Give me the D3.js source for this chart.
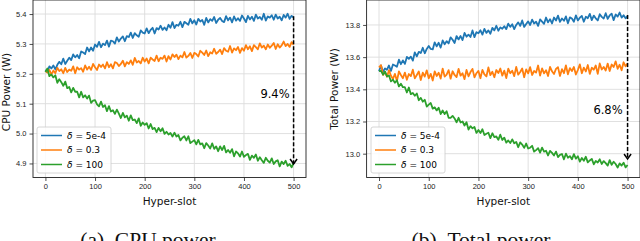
<!DOCTYPE html>
<html>
<head>
<meta charset="utf-8">
<script src="https://cdn.jsdelivr.net/npm/d3@7"></script>
<style>
  body { margin: 0; background: #fff; }
  svg { display: block; font-family: "DejaVu Sans", sans-serif; }
  .grid line { stroke: #dcdcdc; stroke-width: 0.9px; }
  .tick text { font-size: 7.5px; fill: #222; }
  .axis-label { font-size: 10.5px; fill: #111; }
  .caption { font-family: "Liberation Serif", serif; font-size: 21.5px; fill: #111; }
</style>
</head>
<body>
<svg id="chart" width="640" height="241"></svg>
<script>
  // hyper-slot index of every sample (every 4th slot)
  const hyperSlots = d3.range(0, 501, 4);

  // (a) CPU power
  const cpuBlue = [
    5.213, 5.206, 5.225, 5.218, 5.228, 5.215, 5.230, 5.240, 5.232, 5.251,
    5.233, 5.244, 5.254, 5.246, 5.265, 5.255, 5.263, 5.252, 5.275, 5.271,
    5.266, 5.288, 5.275, 5.288, 5.277, 5.298, 5.290, 5.307, 5.289, 5.301,
    5.296, 5.311, 5.291, 5.311, 5.309, 5.301, 5.322, 5.308, 5.318, 5.325,
    5.309, 5.326, 5.323, 5.338, 5.320, 5.336, 5.329, 5.324, 5.345, 5.338,
    5.335, 5.352, 5.336, 5.347, 5.354, 5.335, 5.353, 5.348, 5.361, 5.347,
    5.355, 5.346, 5.364, 5.354, 5.373, 5.353, 5.364, 5.361, 5.374, 5.356,
    5.374, 5.369, 5.364, 5.384, 5.369, 5.379, 5.365, 5.384, 5.375, 5.380,
    5.364, 5.387, 5.372, 5.383, 5.377, 5.390, 5.370, 5.381, 5.387, 5.377,
    5.373, 5.393, 5.379, 5.388, 5.372, 5.392, 5.378, 5.386, 5.377, 5.395,
    5.385, 5.373, 5.394, 5.382, 5.391, 5.377, 5.398, 5.385, 5.390, 5.381,
    5.401, 5.378, 5.392, 5.388, 5.396, 5.381, 5.398, 5.385, 5.391, 5.379,
    5.397, 5.388, 5.401, 5.384, 5.394, 5.388
  ];
  const cpuOrange = [
    5.209, 5.204, 5.213, 5.197, 5.211, 5.202, 5.220, 5.209, 5.215, 5.202,
    5.220, 5.206, 5.214, 5.210, 5.225, 5.202, 5.222, 5.214, 5.219, 5.207,
    5.228, 5.214, 5.224, 5.213, 5.233, 5.222, 5.213, 5.231, 5.223, 5.231,
    5.218, 5.239, 5.222, 5.232, 5.218, 5.239, 5.236, 5.226, 5.233, 5.244,
    5.225, 5.239, 5.233, 5.245, 5.230, 5.253, 5.238, 5.243, 5.235, 5.254,
    5.241, 5.251, 5.235, 5.254, 5.248, 5.243, 5.261, 5.242, 5.254, 5.250,
    5.261, 5.241, 5.259, 5.248, 5.265, 5.256, 5.264, 5.249, 5.261, 5.255,
    5.273, 5.254, 5.260, 5.270, 5.253, 5.270, 5.266, 5.258, 5.277, 5.271,
    5.263, 5.278, 5.259, 5.272, 5.268, 5.284, 5.267, 5.273, 5.281, 5.266,
    5.286, 5.277, 5.274, 5.293, 5.271, 5.285, 5.279, 5.290, 5.270, 5.286,
    5.277, 5.296, 5.282, 5.292, 5.276, 5.296, 5.289, 5.282, 5.302, 5.288,
    5.294, 5.282, 5.298, 5.287, 5.294, 5.303, 5.283, 5.299, 5.288, 5.295,
    5.308, 5.293, 5.300, 5.290, 5.306, 5.297
  ];
  const cpuGreen = [
    5.206, 5.218, 5.192, 5.198, 5.188, 5.195, 5.170, 5.182, 5.172, 5.160,
    5.174, 5.152, 5.156, 5.138, 5.153, 5.140, 5.140, 5.121, 5.140, 5.121,
    5.128, 5.117, 5.127, 5.103, 5.110, 5.112, 5.098, 5.091, 5.107, 5.089,
    5.095, 5.075, 5.092, 5.074, 5.078, 5.066, 5.080, 5.067, 5.052, 5.069,
    5.054, 5.060, 5.043, 5.061, 5.045, 5.047, 5.035, 5.051, 5.026, 5.037,
    5.029, 5.035, 5.017, 5.032, 5.015, 5.019, 5.005, 5.019, 5.008, 5.018,
    4.999, 5.006, 4.997, 5.002, 4.990, 5.003, 4.990, 4.995, 4.977, 4.986,
    4.991, 4.977, 4.991, 4.968, 4.973, 4.978, 4.964, 4.979, 4.964, 4.967,
    4.951, 4.968, 4.960, 4.950, 4.967, 4.949, 4.957, 4.941, 4.957, 4.945,
    4.959, 4.937, 4.945, 4.936, 4.948, 4.924, 4.940, 4.934, 4.923, 4.940,
    4.922, 4.928, 4.932, 4.912, 4.926, 4.919, 4.930, 4.909, 4.921, 4.911,
    4.902, 4.919, 4.909, 4.903, 4.917, 4.898, 4.907, 4.911, 4.890, 4.906,
    4.898, 4.909, 4.892, 4.898, 4.887, 4.902
  ];

  // (b) Total power
  const totalBlue = [
    13.512, 13.548, 13.508, 13.530, 13.522, 13.548, 13.514, 13.554, 13.548, 13.540,
    13.584, 13.556, 13.580, 13.558, 13.601, 13.589, 13.603, 13.578, 13.630, 13.605,
    13.633, 13.625, 13.658, 13.624, 13.651, 13.669, 13.651, 13.648, 13.692, 13.667,
    13.689, 13.659, 13.704, 13.680, 13.699, 13.685, 13.723, 13.708, 13.688, 13.731,
    13.710, 13.731, 13.706, 13.750, 13.727, 13.740, 13.725, 13.766, 13.724, 13.755,
    13.748, 13.767, 13.740, 13.776, 13.751, 13.766, 13.745, 13.782, 13.766, 13.795,
    13.764, 13.785, 13.776, 13.792, 13.774, 13.808, 13.788, 13.804, 13.774, 13.800,
    13.816, 13.794, 13.828, 13.788, 13.806, 13.822, 13.800, 13.833, 13.809, 13.820,
    13.794, 13.834, 13.821, 13.807, 13.846, 13.816, 13.836, 13.809, 13.846, 13.827,
    13.858, 13.819, 13.840, 13.826, 13.853, 13.810, 13.847, 13.840, 13.820, 13.859,
    13.828, 13.845, 13.856, 13.820, 13.851, 13.842, 13.869, 13.830, 13.858, 13.841,
    13.828, 13.867, 13.850, 13.840, 13.873, 13.838, 13.859, 13.870, 13.830, 13.865,
    13.852, 13.877, 13.846, 13.860, 13.841, 13.855
  ];
  const totalOrange = [
    13.537, 13.550, 13.490, 13.506, 13.478, 13.519, 13.484, 13.464, 13.496, 13.451,
    13.511, 13.489, 13.469, 13.504, 13.459, 13.495, 13.482, 13.522, 13.468, 13.489,
    13.511, 13.458, 13.503, 13.479, 13.518, 13.468, 13.496, 13.455, 13.511, 13.483,
    13.503, 13.467, 13.529, 13.479, 13.491, 13.519, 13.466, 13.512, 13.489, 13.476,
    13.527, 13.485, 13.500, 13.463, 13.520, 13.481, 13.507, 13.527, 13.474, 13.500,
    13.514, 13.469, 13.521, 13.493, 13.480, 13.536, 13.488, 13.509, 13.475, 13.520,
    13.501, 13.529, 13.485, 13.516, 13.470, 13.528, 13.500, 13.515, 13.482, 13.539,
    13.491, 13.508, 13.529, 13.475, 13.524, 13.499, 13.538, 13.489, 13.514, 13.504,
    13.548, 13.485, 13.530, 13.499, 13.519, 13.483, 13.539, 13.512, 13.495, 13.527,
    13.538, 13.483, 13.525, 13.500, 13.549, 13.493, 13.532, 13.513, 13.539, 13.492,
    13.520, 13.555, 13.500, 13.535, 13.511, 13.551, 13.496, 13.534, 13.522, 13.548,
    13.496, 13.561, 13.523, 13.539, 13.517, 13.560, 13.514, 13.554, 13.539, 13.574,
    13.527, 13.553, 13.518, 13.568, 13.543, 13.561
  ];
  const totalGreen = [
    13.513, 13.515, 13.491, 13.511, 13.480, 13.486, 13.449, 13.460, 13.441, 13.456,
    13.418, 13.435, 13.413, 13.413, 13.380, 13.411, 13.370, 13.377, 13.360, 13.374,
    13.332, 13.347, 13.323, 13.335, 13.293, 13.305, 13.315, 13.280, 13.288, 13.269,
    13.286, 13.246, 13.268, 13.246, 13.264, 13.223, 13.223, 13.235, 13.219, 13.195,
    13.223, 13.194, 13.200, 13.175, 13.195, 13.150, 13.171, 13.158, 13.166, 13.129,
    13.147, 13.128, 13.152, 13.116, 13.124, 13.130, 13.097, 13.127, 13.103, 13.107,
    13.086, 13.118, 13.085, 13.100, 13.069, 13.082, 13.066, 13.089, 13.065, 13.073,
    13.040, 13.070, 13.057, 13.036, 13.063, 13.032, 13.037, 13.049, 13.013, 13.022,
    13.034, 13.007, 13.038, 13.013, 13.018, 12.989, 13.017, 13.005, 12.989, 13.013,
    12.979, 12.993, 12.998, 12.965, 13.000, 12.975, 12.985, 12.965, 12.997, 12.969,
    12.984, 12.951, 12.973, 12.956, 12.981, 12.946, 12.958, 12.968, 12.934, 12.955,
    12.945, 12.965, 12.936, 12.954, 12.941, 12.926, 12.960, 12.931, 12.950, 12.936,
    12.914, 12.940, 12.926, 12.944, 12.915, 12.930
  ];

  const deltaLabels = ["5e-4", "0.3", "100"];
  const seriesColors = ["#1f77b4", "#ff7f0e", "#2ca02c"];
  const xTicks = [0, 100, 200, 300, 400, 500];
  const cpuTicks = [4.9, 5.0, 5.1, 5.2, 5.3, 5.4];
  const totalTicks = [13.0, 13.2, 13.4, 13.6, 13.8];
  // dashed arrow at slot 500: [from, to], and its gap label
  const cpuArrow = [5.393, 4.898];
  const totalArrow = [13.862, 12.967];
  const gapLabels = ["9.4%", "6.8%"];
  const captions = ["(a)\u2002CPU power", "(b)\u2002Total power"];

  const svg = d3.select("#chart");

  function drawPanel(p) {
    const g = svg.append("g");
    const x = d3.scaleLinear().domain([-25, 525]).range([p.left, p.right]);
    const y = d3.scaleLinear().domain(p.yDomain).range([p.bottom, p.top]);

    // grid
    const grid = g.append("g").attr("class", "grid");
    grid.selectAll(".gx").data(xTicks).enter().append("line")
      .attr("x1", (d) => x(d)).attr("x2", (d) => x(d))
      .attr("y1", p.top).attr("y2", p.bottom);
    grid.selectAll(".gy").data(p.yTicks).enter().append("line")
      .attr("x1", p.left).attr("x2", p.right)
      .attr("y1", (d) => y(d)).attr("y2", (d) => y(d));

    // axes
    const xAxis = g.append("g")
      .attr("transform", `translate(0,${p.bottom})`)
      .call(d3.axisBottom(x).tickValues(xTicks).tickSize(3.5).tickPadding(3));
    const yAxis = g.append("g")
      .attr("transform", `translate(${p.left},0)`)
      .call(d3.axisLeft(y).tickValues(p.yTicks).tickSize(3.5).tickPadding(3)
        .tickFormat(d3.format(".1f")));
    [xAxis, yAxis].forEach((a) => {
      a.select(".domain").remove();
      a.selectAll(".tick line").attr("stroke", "#222").attr("stroke-width", 0.8);
    });

    // lines
    const line = d3.line()
      .x((d, i) => x(hyperSlots[i]))
      .y((d) => y(d));
    p.series.forEach((s, i) => {
      g.append("path")
        .datum(s)
        .attr("fill", "none")
        .attr("stroke", seriesColors[i])
        .attr("stroke-width", 1.8)
        .attr("stroke-linejoin", "round")
        .attr("d", line);
    });

    // frame
    g.append("rect")
      .attr("x", p.left).attr("y", p.top)
      .attr("width", p.right - p.left).attr("height", p.bottom - p.top)
      .attr("fill", "none").attr("stroke", "#222").attr("stroke-width", 0.9);

    // dashed arrow
    const ax = x(500);
    const tip = y(p.arrow[1]);
    g.append("line")
      .attr("x1", ax).attr("x2", ax)
      .attr("y1", y(p.arrow[0])).attr("y2", tip)
      .attr("stroke", "#000").attr("stroke-width", 1.5)
      .attr("stroke-dasharray", "4,2");
    g.append("path")
      .attr("d", `M${ax - 3.5},${tip - 5}L${ax},${tip}L${ax + 3.5},${tip - 5}`)
      .attr("fill", "none").attr("stroke", "#000").attr("stroke-width", 1.5);
    g.append("text")
      .attr("x", p.gapX).attr("y", p.gapY)
      .attr("text-anchor", "middle")
      .style("font-size", "11.5px")
      .text(p.gap);

    // legend
    const lg = g.append("g").attr("transform", `translate(${p.legendX},${p.legendY})`);
    lg.append("rect")
      .attr("width", 74).attr("height", 46).attr("rx", 2)
      .attr("fill", "#fff").attr("fill-opacity", 0.85)
      .attr("stroke", "#ccc").attr("stroke-width", 0.8);
    deltaLabels.forEach((lab, i) => {
      const ly = 8.5 + i * 14.5;
      lg.append("line")
        .attr("x1", 4).attr("x2", 25).attr("y1", ly).attr("y2", ly)
        .attr("stroke", seriesColors[i]).attr("stroke-width", 1.5);
      const t = lg.append("text")
        .attr("x", 30).attr("y", ly + 3.3)
        .style("font-size", "9px");
      t.append("tspan").attr("font-style", "italic").text("δ");
      t.append("tspan").text(" = " + lab);
    });

    // labels
    g.append("text")
      .attr("class", "axis-label")
      .attr("x", x(250)).attr("y", 205)
      .attr("text-anchor", "middle")
      .text("Hyper-slot");
    g.append("text")
      .attr("class", "axis-label")
      .attr("transform", `translate(${p.ylabelX},${p.ylabelY}) rotate(-90)`)
      .attr("text-anchor", "middle")
      .text(p.ylabel);
    g.append("text")
      .attr("class", "caption")
      .attr("x", p.captionX).attr("y", 247)
      .attr("text-anchor", "middle")
      .text(p.caption);
  }

  drawPanel({
    left: 33, right: 306, top: 0, bottom: 177.5,
    yDomain: [4.853, 5.447], yTicks: cpuTicks,
    series: [cpuBlue, cpuOrange, cpuGreen],
    arrow: cpuArrow, gap: gapLabels[0], gapX: 275, gapY: 98,
    legendX: 37, legendY: 127,
    ylabel: "CPU Power (W)", ylabelX: 10, ylabelY: 92,
    caption: captions[0], captionX: 148
  });
  drawPanel({
    left: 366.6, right: 640, top: 0, bottom: 177.5,
    yDomain: [12.852, 13.955], yTicks: totalTicks,
    series: [totalBlue, totalOrange, totalGreen],
    arrow: totalArrow, gap: gapLabels[1], gapX: 608, gapY: 114,
    legendX: 371, legendY: 127,
    ylabel: "Total Power (W)", ylabelX: 338, ylabelY: 89,
    caption: captions[1], captionX: 481
  });
</script>
</body>
</html>
